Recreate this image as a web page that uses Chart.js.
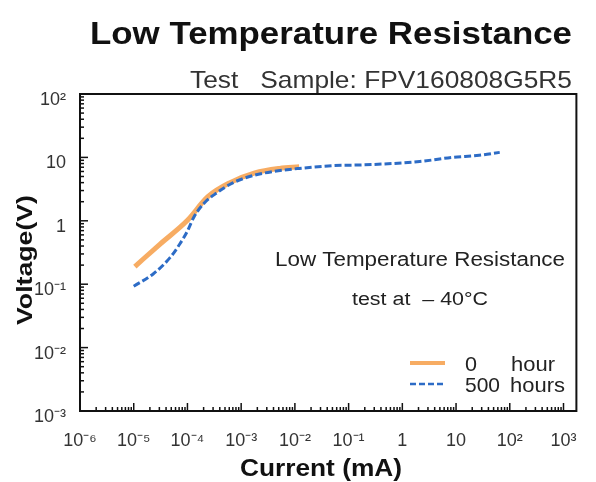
<!DOCTYPE html>
<html>
<head>
<meta charset="utf-8">
<script src="https://cdn.jsdelivr.net/npm/chart.js@4.4.1/dist/chart.umd.min.js"></script>
<style>
  html, body { margin: 0; padding: 0; background: #fff; }
  #chart { display: block; }
</style>
</head>
<body>
<canvas id="chart" width="596" height="482"></canvas>
<script>
// current (mA) / voltage (V)
const current500h = [1e-5, 2.3e-5, 4.7e-5, 7.2e-5, 1e-4, 1.3e-4, 2e-4, 3.5e-4, 7e-4, 1.7e-3, 4e-3, 0.012, 0.05, 0.16, 0.66, 2.1, 8.5, 27, 65];
const voltage500h = [0.093, 0.145, 0.26, 0.43, 0.69, 1.12, 1.86, 2.75, 3.97, 5.2, 6.0, 6.7, 7.4, 7.6, 8.0, 8.6, 10, 10.8, 12.0];
const current0h = [1.05e-5, 3.1e-5, 9.8e-5, 2.4e-4, 6.2e-4, 1.8e-3, 5.2e-3, 0.012];
const voltage0h = [0.19, 0.43, 1.0, 2.4, 4.0, 5.7, 6.7, 7.1];

const xTickValues = [1e-6, 1e-5, 1e-4, 1e-3, 1e-2, 1e-1, 1, 10, 100, 1000];
const xTickLabels = ["10⁻⁶", "10⁻⁵", "10⁻⁴", "10⁻³", "10⁻²", "10⁻¹", "1", "10", "10²", "10³"];
const yTickValues = [1e-3, 1e-2, 1e-1, 1, 10, 100];
const yTickLabels = ["10⁻³", "10⁻²", "10⁻¹", "1", "10", "10²"];

const seriesNames = ["0", "500"];
const FONT = "'Liberation Sans', Arial, sans-serif";
const ORANGE = "rgba(246,163,82,0.9)";
const BLUE = "#2d6cc6";

function toPoints(xs, ys) {
  return xs.map((x, i) => ({ x, y: ys[i] }));
}

// draw text squeezed/stretched to fit a given width
function fitText(ctx, text, font, left, right, baseline, color) {
  ctx.save();
  ctx.font = font;
  ctx.fillStyle = color;
  ctx.textAlign = "left";
  ctx.textBaseline = "alphabetic";
  const w = ctx.measureText(text).width;
  ctx.translate(left, baseline);
  ctx.scale((right - left) / w, 1);
  ctx.fillText(text, 0, 0);
  ctx.restore();
}

const framePlugin = {
  id: "frame",
  afterDatasetsDraw(chart) {
    const { ctx, chartArea: a, scales } = chart;
    ctx.save();
    ctx.strokeStyle = "#111";
    ctx.lineWidth = 1.5;
    // minor + major ticks, pointing inward on left and bottom axes
    for (let d = -6; d <= 3; d++) {
      for (let k = 1; k <= 9; k++) {
        const v = k * Math.pow(10, d);
        const px = scales.x.getPixelForValue(v);
        if (px < a.left || px > a.right) continue;
        const len = k === 1 ? 8 : 4;
        ctx.beginPath();
        ctx.moveTo(px, a.bottom);
        ctx.lineTo(px, a.bottom - len);
        ctx.stroke();
      }
    }
    for (let d = -3; d <= 2; d++) {
      for (let k = 1; k <= 9; k++) {
        const v = k * Math.pow(10, d);
        if (v > 100) break;
        const py = scales.y.getPixelForValue(v);
        const len = k === 1 ? 8 : 4;
        ctx.beginPath();
        ctx.moveTo(a.left, py);
        ctx.lineTo(a.left + len, py);
        ctx.stroke();
      }
    }
    ctx.lineWidth = 2;
    ctx.strokeRect(a.left, a.top, a.right - a.left, a.bottom - a.top);
    ctx.restore();
  },
  afterDraw(chart) {
    const { ctx } = chart;
    fitText(ctx, "Low Temperature Resistance", "bold 32px " + FONT, 90, 572, 44, "#111");
    fitText(ctx, "Test   Sample: FPV160808G5R5", "24px " + FONT, 190, 572, 88, "#333");
    fitText(ctx, "Current (mA)", "bold 23px " + FONT, 240, 402, 476, "#111");

    // y axis title
    ctx.save();
    ctx.translate(32, 260);
    ctx.rotate(-Math.PI / 2);
    fitText(ctx, "Voltage(V)", "bold 22px " + FONT, -65, 65, 0, "#111");
    ctx.restore();

    // annotation inside plot
    fitText(ctx, "Low Temperature Resistance", "20px " + FONT, 275, 565, 266, "#222");
    fitText(ctx, "test at  – 40°C", "18px " + FONT, 352, 488, 305, "#222");

    // legend
    ctx.save();
    ctx.lineWidth = 4;
    ctx.strokeStyle = ORANGE;
    ctx.beginPath();
    ctx.moveTo(410, 363);
    ctx.lineTo(445, 363);
    ctx.stroke();
    ctx.lineWidth = 2.5;
    ctx.strokeStyle = BLUE;
    ctx.setLineDash([6, 3]);
    ctx.beginPath();
    ctx.moveTo(410, 384);
    ctx.lineTo(445, 384);
    ctx.stroke();
    ctx.restore();
    fitText(ctx, seriesNames[0], "21px " + FONT, 465, 477, 371, "#222");
    fitText(ctx, "hour", "21px " + FONT, 511, 555, 371, "#222");
    fitText(ctx, seriesNames[1], "21px " + FONT, 465, 500, 392, "#222");
    fitText(ctx, "hours", "21px " + FONT, 510, 565, 392, "#222");
  }
};

new Chart(document.getElementById("chart"), {
  type: "line",
  data: {
    datasets: [
      {
        label: "500 hours",
        data: toPoints(current500h, voltage500h),
        borderColor: BLUE,
        borderWidth: 3,
        borderDash: [7, 3],
        pointRadius: 0,
        cubicInterpolationMode: "monotone",
        fill: false,
        order: 0
      },
      {
        label: "0 hour",
        data: toPoints(current0h, voltage0h),
        borderColor: ORANGE,
        borderWidth: 5,
        pointRadius: 0,
        cubicInterpolationMode: "monotone",
        fill: false,
        order: 1
      }
    ]
  },
  options: {
    responsive: false,
    animation: false,
    layout: { padding: { top: 94, right: 19, left: 0, bottom: 0 } },
    plugins: {
      legend: { display: false },
      title: { display: false },
      tooltip: { enabled: false }
    },
    scales: {
      x: {
        type: "logarithmic",
        min: 1e-6,
        max: Math.pow(10, 3.24),
        grid: { display: false, drawTicks: false },
        border: { display: false },
        afterBuildTicks: (scale) => {
          scale.ticks = xTickValues.map((v) => ({ value: v }));
        },
        afterFit: (scale) => {
          scale.height = 71;
        },
        ticks: {
          autoSkip: false,
          maxRotation: 0,
          padding: 19,
          color: "#333",
          font: { family: FONT, size: 18 },
          callback: (value, index) => xTickLabels[index]
        }
      },
      y: {
        type: "logarithmic",
        min: 1e-3,
        max: 100,
        grid: { display: false, drawTicks: false },
        border: { display: false },
        afterBuildTicks: (scale) => {
          scale.ticks = yTickValues.map((v) => ({ value: v }));
        },
        afterFit: (scale) => {
          scale.width = 80;
        },
        ticks: {
          autoSkip: false,
          padding: 14,
          labelOffset: 6,
          color: "#333",
          font: { family: FONT, size: 18 },
          callback: (value, index) => yTickLabels[index]
        }
      }
    }
  },
  plugins: [framePlugin]
});
</script>
</body>
</html>
